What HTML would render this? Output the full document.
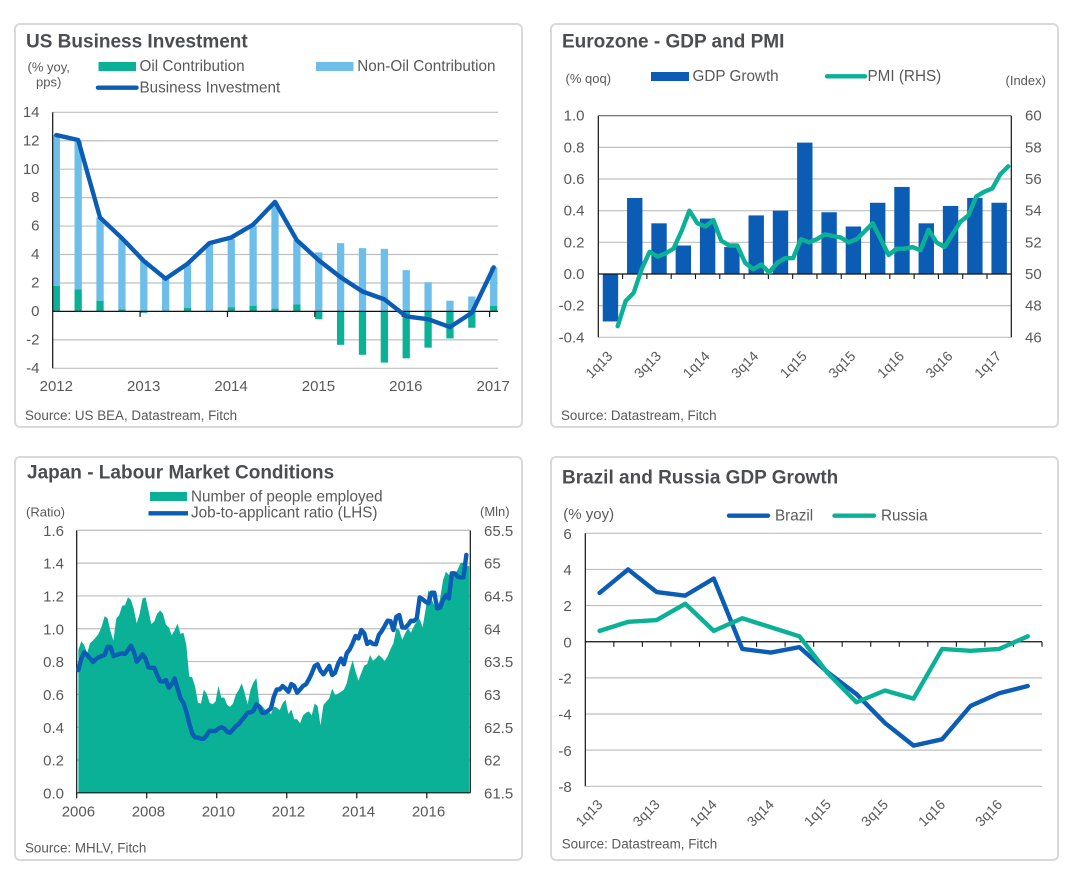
<!DOCTYPE html>
<html lang="en">
<head>
<meta charset="utf-8">
<title>Economic charts</title>
<style>
html,body{margin:0;padding:0;background:#fff;}
body{width:1071px;height:871px;overflow:hidden;}
svg{display:block;font-family:"Liberation Sans",Arial,sans-serif;}
text{fill:#595959;}
.title{font-size:19px;font-weight:bold;fill:#4b4d50;}
.src{font-size:13.4px;fill:#595959;}
.leg{font-size:15.25px;}
.unit{font-size:13px;}
.tick{font-size:15px;}
.rot{font-size:14px;}
</style>
</head>
<body>
<svg id="root" width="1071" height="871" viewBox="0 0 1071 871" xmlns="http://www.w3.org/2000/svg">
  <rect x="15" y="24" width="507" height="403" rx="5" fill="#fff" stroke="#d9d9d9" stroke-width="2"/>
  <rect x="551" y="24" width="507" height="403" rx="5" fill="#fff" stroke="#d9d9d9" stroke-width="2"/>
  <rect x="15" y="457" width="507" height="403" rx="5" fill="#fff" stroke="#d9d9d9" stroke-width="2"/>
  <rect x="551" y="457" width="507" height="403" rx="5" fill="#fff" stroke="#d9d9d9" stroke-width="2"/>

  <text class="title" x="26" y="47.5">US Business Investment</text>
  <text class="unit" x="27.5" y="71.5">(% yoy,</text>
  <text class="unit" x="36" y="86.5">pps)</text>
  <rect x="98.5" y="62" width="37.5" height="9" fill="#0bb197"/>
  <text class="leg" x="139.5" y="71">Oil Contribution</text>
  <rect x="316" y="62" width="37.5" height="9" fill="#6dbfe9"/>
  <text class="leg" x="357.3" y="71">Non-Oil Contribution</text>
  <line x1="98" x2="136.5" y1="87.7" y2="87.7" stroke="#0b5cb5" stroke-width="4.4" stroke-linecap="round"/>
  <text class="leg" x="139.5" y="92.7">Business Investment</text>
  <text class="src" x="25" y="420">Source: US BEA, Datastream, Fitch</text>

  <text class="title" x="562" y="47.5">Eurozone - GDP and PMI</text>
  <text class="unit" x="565.5" y="83">(% qoq)</text>
  <text class="unit" x="1005.5" y="85">(Index)</text>
  <rect x="651" y="72" width="38" height="9" fill="#0b5cb5"/>
  <text class="leg" x="692.5" y="81">GDP Growth</text>
  <line x1="827" x2="865" y1="76.3" y2="76.3" stroke="#0bb197" stroke-width="4.4" stroke-linecap="round"/>
  <text class="leg" x="867.5" y="81">PMI (RHS)</text>
  <text class="src" x="561" y="420">Source: Datastream, Fitch</text>

  <text class="title" x="27" y="478.5">Japan - Labour Market Conditions</text>
  <text class="unit" x="26" y="516.5">(Ratio)</text>
  <text class="unit" x="480" y="516">(Mln)</text>
  <rect x="150" y="492" width="37" height="9" fill="#0bb197"/>
  <text class="leg" x="191" y="501.7">Number of people employed</text>
  <line x1="148.5" x2="188" y1="513.3" y2="513.3" stroke="#0b5cb5" stroke-width="4.4"/>
  <text class="leg" x="191" y="517.7">Job-to-applicant ratio (LHS)</text>
  <text class="src" x="25" y="852.7">Source: MHLV, Fitch</text>

  <text class="title" x="562" y="483.5">Brazil and Russia GDP Growth</text>
  <text class="tick" x="563.3" y="519">(% yoy)</text>
  <line x1="729" x2="768" y1="515.7" y2="515.7" stroke="#0b5cb5" stroke-width="4.4" stroke-linecap="round"/>
  <text class="leg" x="775" y="520.7">Brazil</text>
  <line x1="834.5" x2="874" y1="515.7" y2="515.7" stroke="#0bb197" stroke-width="4.4" stroke-linecap="round"/>
  <text class="leg" x="881" y="520.7">Russia</text>
  <text class="src" x="561.7" y="848.3">Source: Datastream, Fitch</text>

  <g id="c1"></g>
  <g id="c2"></g>
  <g id="c3"></g>
  <g id="c4"></g>
</svg>
<script>
// ---------- Chart 1: US Business Investment ----------
const usYearLabels = ['2012','2013','2014','2015','2016','2017'];
const usYTicks = [14,12,10,8,6,4,2,0,-2,-4];
const usOil = [1.8,1.55,0.75,0.15,-0.1,0,0.25,0.05,0.3,0.4,0.2,0.5,-0.55,-2.35,-3.05,-3.6,-3.3,-2.55,-1.9,-1.15,0.4];
const usNonOil = [10.6,10.45,5.85,4.95,3.6,2.3,3.05,4.65,4.8,5.6,7.4,4.5,4.15,4.8,4.45,4.4,2.9,2.05,0.75,1.05,2.7];
const usInvestment = [12.4,12.05,6.6,5.15,3.55,2.3,3.35,4.8,5.2,6.1,7.7,5.0,3.6,2.4,1.4,0.85,-0.35,-0.55,-1.1,-0.1,3.1];

// ---------- Chart 2: Eurozone ----------
const ezQuarterLabels = ['1q13','3q13','1q14','3q14','1q15','3q15','1q16','3q16','1q17'];
const ezLeftTicks = [1.0,0.8,0.6,0.4,0.2,0.0,-0.2,-0.4];
const ezRightTicks = [60,58,56,54,52,50,48,46];
const ezGdp = [-0.3,0.48,0.32,0.18,0.35,0.17,0.37,0.40,0.83,0.39,0.30,0.45,0.55,0.32,0.43,0.48,0.45];
const ezPmi = [46.7,48.3,48.8,50.3,51.4,51.1,51.3,51.6,52.7,54.0,53.2,53.0,53.4,52.1,51.8,51.8,50.7,50.3,50.6,50.1,50.7,51.0,51.0,52.2,52.0,52.2,52.5,52.4,52.3,52.0,52.2,52.7,53.2,52.2,51.2,51.6,51.6,51.7,51.5,52.8,52.0,51.7,52.5,53.3,53.7,54.9,55.2,55.4,56.3,56.8];

// ---------- Chart 3: Japan ----------
const jpYearLabels = ['2006','2008','2010','2012','2014','2016'];
const jpLeftTicks = [1.6,1.4,1.2,1.0,0.8,0.6,0.4,0.2,0.0];
const jpRightTicks = ['65.5','65','64.5','64','63.5','63','62.5','62','61.5'];
const jpRatio = [.748,.819,.856,.840,.819,.797,.815,.827,.833,.840,.890,.890,.833,.840,.846,.850,.846,.870,.897,.860,.799,.819,.844,.819,.764,.762,.762,.718,.681,.677,.687,.640,.663,.697,.636,.575,.549,.494,.423,.362,.337,.337,.329,.329,.352,.378,.376,.376,.392,.400,.392,.372,.366,.386,.407,.419,.443,.464,.488,.490,.500,.539,.525,.488,.488,.500,.514,.586,.630,.630,
.651,.636,.616,.663,.651,.610,.630,.651,.661,.691,.728,.773,.783,.744,.722,.748,.773,.718,.732,.785,.819,.783,.850,.874,.911,.956,.941,.992,.972,.907,.921,.907,.905,.962,.986,1.017,1.049,1.047,.992,1.073,1.084,1.008,1.006,1.023,1.049,1.047,1.063,1.191,1.179,1.165,1.155,1.220,1.220,1.124,1.128,1.175,1.206,1.185,1.338,1.338,1.317,1.313,1.313,1.450];
const jpEmployed = [63.68,63.81,63.75,63.63,63.78,63.82,63.87,63.93,64.04,64.19,64.16,63.96,63.82,64.16,64.21,64.35,64.36,64.48,64.44,64.30,64.08,64.23,64.46,64.48,64.28,64.07,64.11,64.23,64.28,64.23,64.06,64.02,63.90,63.98,64.08,63.92,63.94,63.75,63.27,63.26,63.12,62.87,62.86,63.07,63.01,62.87,62.85,62.89,63.13,62.95,62.95,62.84,62.81,62.86,63.00,63.07,63.17,63.02,62.85,63.07,63.18,63.25,62.86,62.82,62.77,62.74,62.70,62.81,62.80,62.76,
62.86,62.92,62.70,62.77,62.62,62.62,62.56,62.68,62.72,62.74,62.68,62.86,62.82,62.53,62.84,62.89,62.94,63.09,62.99,63.01,63.04,63.07,63.17,63.37,63.52,63.35,63.21,63.33,63.44,63.46,63.60,63.51,63.55,63.60,63.56,63.51,63.58,63.69,63.78,64.01,63.98,63.83,63.93,64.01,63.94,64.04,64.11,64.15,64.02,64.29,64.59,64.46,64.36,64.31,64.46,64.74,64.87,64.82,64.78,64.82,64.90,65.00,65.01,64.97,64.95];

// ---------- Chart 4: Brazil and Russia ----------
const brQuarterLabels = ['1q13','3q13','1q14','3q14','1q15','3q15','1q16','3q16'];
const brYTicks = [6,4,2,0,-2,-4,-6,-8];
const brBrazil = [2.7,4.0,2.75,2.55,3.5,-0.4,-0.6,-0.3,-1.7,-2.9,-4.5,-5.75,-5.4,-3.55,-2.85,-2.45];
const brRussia = [0.6,1.1,1.2,2.1,0.6,1.3,0.8,0.3,-1.75,-3.35,-2.7,-3.15,-0.4,-0.5,-0.4,0.3];

// ---------- Helpers ----------
const NS = 'http://www.w3.org/2000/svg';
const BLUE = '#0b5cb5', TEAL = '#0bb197', SKY = '#6dbfe9', GRID = '#bfbfbf', AXIS = '#111';
function mk(parent, tag, attrs, txt) {
  const e = document.createElementNS(NS, tag);
  for (const k in attrs) e.setAttribute(k, attrs[k]);
  if (txt !== undefined) e.textContent = txt;
  parent.appendChild(e);
  return e;
}
function linear(d0, d1, r0, r1) {
  return v => r0 + (v - d0) * (r1 - r0) / (d1 - d0);
}
function pathOf(vals, x, y) {
  return vals.map((v, i) => (i ? 'L' : 'M') + x(i).toFixed(2) + ' ' + y(v).toFixed(2)).join('');
}
const seriesStyle = {fill:'none','stroke-width':4.4,'stroke-linejoin':'round','stroke-linecap':'round'};
let el;

// ---------- Draw chart 1 ----------
(function () {
  const g = document.getElementById('c1');
  const L = 52.7, R = 498;
  const y = linear(14, -4, 112.3, 368.3);
  const x = linear(0, 20, 56.3, 493.7);
  const yearX = linear(0, 5, 52.7, 489.6);
  const barW = 7.3;
  usYTicks.forEach(v => {
    if (v !== 0) {
      el = mk(g, 'line', {x1:L, x2:R, y1:y(v), y2:y(v), stroke:GRID, 'stroke-width':1.2});
      
      
    }
    el = mk(g, 'text', {class:'tick', x:39.5, y:y(v) + 4.6, 'text-anchor':'end'}, String(v));
    
    
  });
  usOil.forEach((v, i) => {
    const base = Math.max(v, 0);
    el = mk(g, 'rect', {x:x(i) - barW / 2, width:barW, y:y(base + usNonOil[i]), height:y(base) - y(base + usNonOil[i]), fill:SKY});
    
    
    el = mk(g, 'rect', {x:x(i) - barW / 2, width:barW, y:y(Math.max(v, 0)), height:Math.abs(y(v) - y(0)), fill:TEAL});
    
    
  });
  el = mk(g, 'line', {x1:L, x2:L, y1:y(14), y2:y(-4), stroke:AXIS, 'stroke-width':1.2});
  
  
  el = mk(g, 'line', {x1:L, x2:R, y1:y(0), y2:y(0), stroke:AXIS, 'stroke-width':1.2});
  
  
  usYearLabels.forEach((t, i) => {
    if (i) {
      el = mk(g, 'line', {x1:yearX(i), x2:yearX(i), y1:y(0), y2:y(0) + 5.5, stroke:AXIS, 'stroke-width':1.2});
      
      
    }
    el = mk(g, 'text', {class:'tick', x:yearX(i) + 3.6, y:391, 'text-anchor':'middle'}, t);
    
    
  });
  el = mk(g, 'path', Object.assign({d:pathOf(usInvestment, x, y), stroke:BLUE}, seriesStyle));
  
  
})();

// ---------- Draw chart 2 ----------
(function () {
  const g = document.getElementById('c2');
  const L = 598.3, R = 1011.3;
  const y = linear(1.0, -0.4, 115.7, 337.3);
  const yR = linear(60, 46, 115.7, 337.3);
  const band = (R - L) / ezGdp.length;
  const xc = i => L + band * (i + 0.5);
  const xm = i => 617.7 + i * 7.97;
  ezLeftTicks.forEach(v => {
    if (v !== 0) {
      el = mk(g, 'line', {x1:L, x2:R, y1:y(v), y2:y(v), stroke:(v === 1.0 ? '#666' : GRID), 'stroke-width':1.2});
      
      
    }
    el = mk(g, 'text', {class:'tick', x:584.5, y:y(v) + 5, 'text-anchor':'end'}, v.toFixed(1));
    
    
  });
  ezRightTicks.forEach(v => {
    el = mk(g, 'text', {class:'tick', x:1025, y:yR(v) + 5}, String(v));
    
    
  });
  ezGdp.forEach((v, i) => {
    el = mk(g, 'rect', {x:xc(i) - 7.7, width:15.4, y:Math.min(y(v), y(0)), height:Math.abs(y(v) - y(0)), fill:BLUE});
    
    
  });
  ezGdp.forEach((v, i) => {
    if (i) {
      el = mk(g, 'line', {x1:L + band * i, x2:L + band * i, y1:y(0), y2:y(0) + 5, stroke:AXIS, 'stroke-width':1.1});
      
      
    }
  });
  el = mk(g, 'line', {x1:L, x2:L, y1:y(1), y2:y(-0.4), stroke:AXIS, 'stroke-width':1.2});
  
  
  el = mk(g, 'line', {x1:R, x2:R, y1:y(1), y2:y(-0.4), stroke:AXIS, 'stroke-width':1.2});
  
  
  el = mk(g, 'line', {x1:L, x2:R, y1:y(0), y2:y(0), stroke:AXIS, 'stroke-width':1.2});
  
  
  ezQuarterLabels.forEach((t, i) => {
    const px = xc(i * 2) + 3, py = 357;
    el = mk(g, 'text', {class:'rot', x:px, y:py, 'text-anchor':'end', transform:'rotate(-45 ' + px + ' ' + py + ')'}, t);
    
    
  });
  el = mk(g, 'path', Object.assign({d:pathOf(ezPmi, xm, yR), stroke:TEAL}, seriesStyle));
  
  
})();

// ---------- Draw chart 3 ----------
(function () {
  const g = document.getElementById('c3');
  const L = 76.7, R = 470.3;
  const y = linear(1.6, 0, 530.3, 792.8);
  const yR = linear(65.5, 61.5, 530.3, 792.8);
  const xm = i => 78.4 + i * 2.917;
  const yearX = linear(0, 5, 76.7, 426.8);
  jpLeftTicks.forEach(v => {
    if (v !== 0) {
      el = mk(g, 'line', {x1:L, x2:R, y1:y(v), y2:y(v), stroke:GRID, 'stroke-width':1.2});
      
      
    }
    el = mk(g, 'text', {class:'tick', x:64, y:y(v) + 5.6, 'text-anchor':'end'}, v.toFixed(1));
    
    
  });
  jpRightTicks.forEach(t => {
    el = mk(g, 'text', {class:'tick', x:484, y:yR(Number(t)) + 5.6}, t);
    
    
  });
  const areaD = pathOf(jpEmployed, xm, yR) + 'L' + xm(jpEmployed.length - 1).toFixed(2) + ' ' + y(0) + 'L' + xm(0).toFixed(2) + ' ' + y(0) + 'Z';
  el = mk(g, 'path', {d:areaD, fill:'#0bb197'});
  
  
  el = mk(g, 'line', {x1:L, x2:L, y1:y(1.6), y2:y(0), stroke:AXIS, 'stroke-width':1.2});
  
  
  el = mk(g, 'line', {x1:R, x2:R, y1:y(1.6), y2:y(0), stroke:AXIS, 'stroke-width':1.2});
  
  
  el = mk(g, 'line', {x1:L, x2:R, y1:y(1.6), y2:y(1.6), stroke:GRID, 'stroke-width':1.2});
  
  
  el = mk(g, 'line', {x1:L, x2:R, y1:y(0), y2:y(0), stroke:AXIS, 'stroke-width':1.2});
  
  
  jpYearLabels.forEach((t, i) => {
    el = mk(g, 'line', {x1:yearX(i), x2:yearX(i), y1:y(0), y2:y(0) + 5.5, stroke:AXIS, 'stroke-width':1.2});
    
    
    el = mk(g, 'text', {class:'tick', x:yearX(i) + 1.7, y:816.7, 'text-anchor':'middle'}, t);
    
    
  });
  el = mk(g, 'path', Object.assign({d:pathOf(jpRatio, xm, y), stroke:BLUE}, seriesStyle));
  
  
})();

// ---------- Draw chart 4 ----------
(function () {
  const g = document.getElementById('c4');
  const L = 585.3, R = 1042;
  const y = linear(6, -8, 533.3, 786.3);
  const band = (R - L) / brBrazil.length;
  const xc = i => L + band * (i + 0.5);
  brYTicks.forEach(v => {
    if (v !== 0) {
      el = mk(g, 'line', {x1:L, x2:R, y1:y(v), y2:y(v), stroke:GRID, 'stroke-width':1.2});
      
      
    }
    el = mk(g, 'text', {class:'tick', x:571.7, y:y(v) + 5.6, 'text-anchor':'end'}, String(v));
    
    
  });
  el = mk(g, 'line', {x1:L, x2:L, y1:y(6), y2:y(-8), stroke:AXIS, 'stroke-width':1.2});
  
  
  el = mk(g, 'line', {x1:L, x2:R, y1:y(0), y2:y(0), stroke:AXIS, 'stroke-width':1.2});
  
  
  brBrazil.forEach((v, i) => {
    el = mk(g, 'line', {x1:L + band * (i + 1), x2:L + band * (i + 1), y1:y(0), y2:y(0) + 5, stroke:AXIS, 'stroke-width':1.1});
    
    
  });
  brQuarterLabels.forEach((t, i) => {
    const px = xc(i * 2) + 4, py = 805.3;
    el = mk(g, 'text', {class:'rot', x:px, y:py, 'text-anchor':'end', transform:'rotate(-45 ' + px + ' ' + py + ')'}, t);
    
    
  });
  el = mk(g, 'path', Object.assign({d:pathOf(brBrazil, xc, y), stroke:BLUE}, seriesStyle));
  
  
  el = mk(g, 'path', Object.assign({d:pathOf(brRussia, xc, y), stroke:TEAL}, seriesStyle));
  
  
})();
</script>
</body>
</html>
